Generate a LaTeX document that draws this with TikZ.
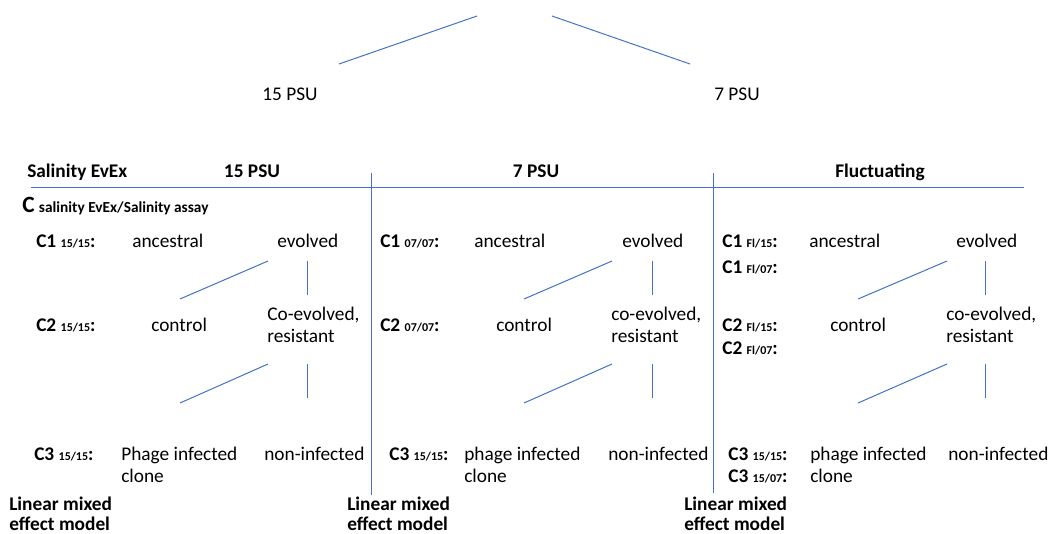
\documentclass[tikz,border=0pt]{standalone}
\usepackage{fontspec}
\setmainfont{Carlito}
\definecolor{lineblue}{HTML}{4472C4}
\tikzset{
  txt/.style={anchor=base west, inner sep=0pt, font=\fontsize{14.5}{16.5}\selectfont, align=left},
  hdr/.style={anchor=base, inner sep=0pt, font=\fontsize{14.5}{16.5}\selectfont\bfseries},
  lmm/.style={anchor=base west, inner sep=0pt, font=\fontsize{14.5}{15}\selectfont\bfseries, align=left},
  branch/.style={draw=lineblue, line width=0.75pt},
}
\newcommand{\cond}[2]{\textbf{#1 {\fontsize{9}{10}\selectfont #2}:}}

\begin{document}
\begin{tikzpicture}[x=0.75pt,y=0.75pt,yscale=-1,xscale=1]
\useasboundingbox (0,0) rectangle (1052,533);
%Line ends
\coordinate (T1) at (339,64); \coordinate (T2) at (477,16);
\coordinate (T3) at (552,16); \coordinate (T4) at (690,64);
\coordinate (H1) at (31,187); \coordinate (H2) at (1024,187);
\coordinate (S1) at (371.5,173); \coordinate (S2) at (371.5,495);
\coordinate (S3) at (713.5,173); \coordinate (S4) at (713.5,493);
\coordinate (A1) at (268,261); \coordinate (A2) at (180,299);
\coordinate (A3) at (307,261); \coordinate (A4) at (307,295);
\coordinate (A5) at (268,364); \coordinate (A6) at (180,403);
\coordinate (A7) at (307,364); \coordinate (A8) at (307,398);
\coordinate (B1) at (612,261); \coordinate (B2) at (524,299);
\coordinate (B3) at (652,261); \coordinate (B4) at (652,295);
\coordinate (B5) at (612,364); \coordinate (B6) at (524,403);
\coordinate (B7) at (652,364); \coordinate (B8) at (652,398);
\coordinate (C1) at (947,261); \coordinate (C2) at (858,299);
\coordinate (C3) at (985,261); \coordinate (C4) at (985,295);
\coordinate (C5) at (947,364); \coordinate (C6) at (858,403);
\coordinate (C7) at (985,364); \coordinate (C8) at (985,398);
%Straight Lines
\draw [branch] (T1) -- (T2) ;
\draw [branch] (T3) -- (T4) ;
\draw [branch] (H1) -- (H2) ;
\draw [branch, line width=1pt] (S1) -- (S2) ;
\draw [branch, line width=1pt] (S3) -- (S4) ;
%Straight Lines
\draw [branch] (A1) -- (A2) ; \draw [branch] (A3) -- (A4) ;
\draw [branch] (A5) -- (A6) ; \draw [branch] (A7) -- (A8) ;
\draw [branch] (B1) -- (B2) ; \draw [branch] (B3) -- (B4) ;
\draw [branch] (B5) -- (B6) ; \draw [branch] (B7) -- (B8) ;
\draw [branch] (C1) -- (C2) ; \draw [branch] (C3) -- (C4) ;
\draw [branch] (C5) -- (C6) ; \draw [branch] (C7) -- (C8) ;
% Text Node
\node [txt, anchor=base] (psuHigh) at (290,100) {15 PSU};
\node [txt, anchor=base] (psuLow) at (737,100) {7 PSU};
% Text Node
\node [lmm] (evexHead) at (27,177) {Salinity EvEx};
\node [hdr] (headA) at (252,177) {15 PSU};
\node [hdr] (headB) at (536,177) {7 PSU};
\node [hdr] (headC) at (880,177) {Fluctuating};
\node [txt] (cTitle) at (22,212) {\textbf{{\fontsize{17.5}{20}\selectfont C} {\fontsize{11.5}{13}\selectfont salinity EvEx/Salinity assay}}};
% Text Node -- 15 PSU
\node [txt] (condA1) at (36,247) {\cond{C1}{15/15}};
\node [txt] (ancA) at (132,247) {ancestral};
\node [txt] (evoA) at (277,247) {evolved};
\node [txt] (condA2) at (36,331) {\cond{C2}{15/15}};
\node [txt] (ctrlA) at (151,331) {control};
\node [txt] (coevoA) at (267,342) {Co-evolved,\\resistant};
\node [txt] (condA3) at (34,460) {\cond{C3}{15/15}};
\node [txt] (phageA) at (121,482) {Phage infected\\clone};
\node [txt] (noninfA) at (264,460) {non-infected};
\node [lmm] (lmmA) at (9,530) {Linear mixed\\effect model};
% Text Node -- 7 PSU
\node [txt] (condB1) at (380,247) {\cond{C1}{07/07}};
\node [txt] (ancB) at (474,247) {ancestral};
\node [txt] (evoB) at (622,247) {evolved};
\node [txt] (condB2) at (380,331) {\cond{C2}{07/07}};
\node [txt] (ctrlB) at (496,331) {control};
\node [txt] (coevoB) at (611,342) {co-evolved,\\resistant};
\node [txt] (condB3) at (389,460) {\cond{C3}{15/15}};
\node [txt] (phageB) at (464,482) {phage infected\\clone};
\node [txt] (noninfB) at (608,460) {non-infected};
\node [lmm] (lmmB) at (347,530) {Linear mixed\\effect model};
% Text Node -- Fluctuating
\node [txt] (condC1) at (722,247) {\cond{C1}{Fl/15}};
\node [txt] (condC1b) at (722,273) {\cond{C1}{Fl/07}};
\node [txt] (ancC) at (809,247) {ancestral};
\node [txt] (evoC) at (956,247) {evolved};
\node [txt] (condC2) at (722,331) {\cond{C2}{Fl/15}};
\node [txt] (condC2b) at (722,354) {\cond{C2}{Fl/07}};
\node [txt] (ctrlC) at (830,331) {control};
\node [txt] (coevoC) at (946,342) {co-evolved,\\resistant};
\node [txt] (condC3) at (728,460) {\cond{C3}{15/15}};
\node [txt] (condC3b) at (728,482) {\cond{C3}{15/07}};
\node [txt] (phageC) at (810,482) {phage infected\\clone};
\node [txt] (noninfC) at (948,460) {non-infected};
\node [lmm] (lmmC) at (684,530) {Linear mixed\\effect model};
\end{tikzpicture}
\end{document}
